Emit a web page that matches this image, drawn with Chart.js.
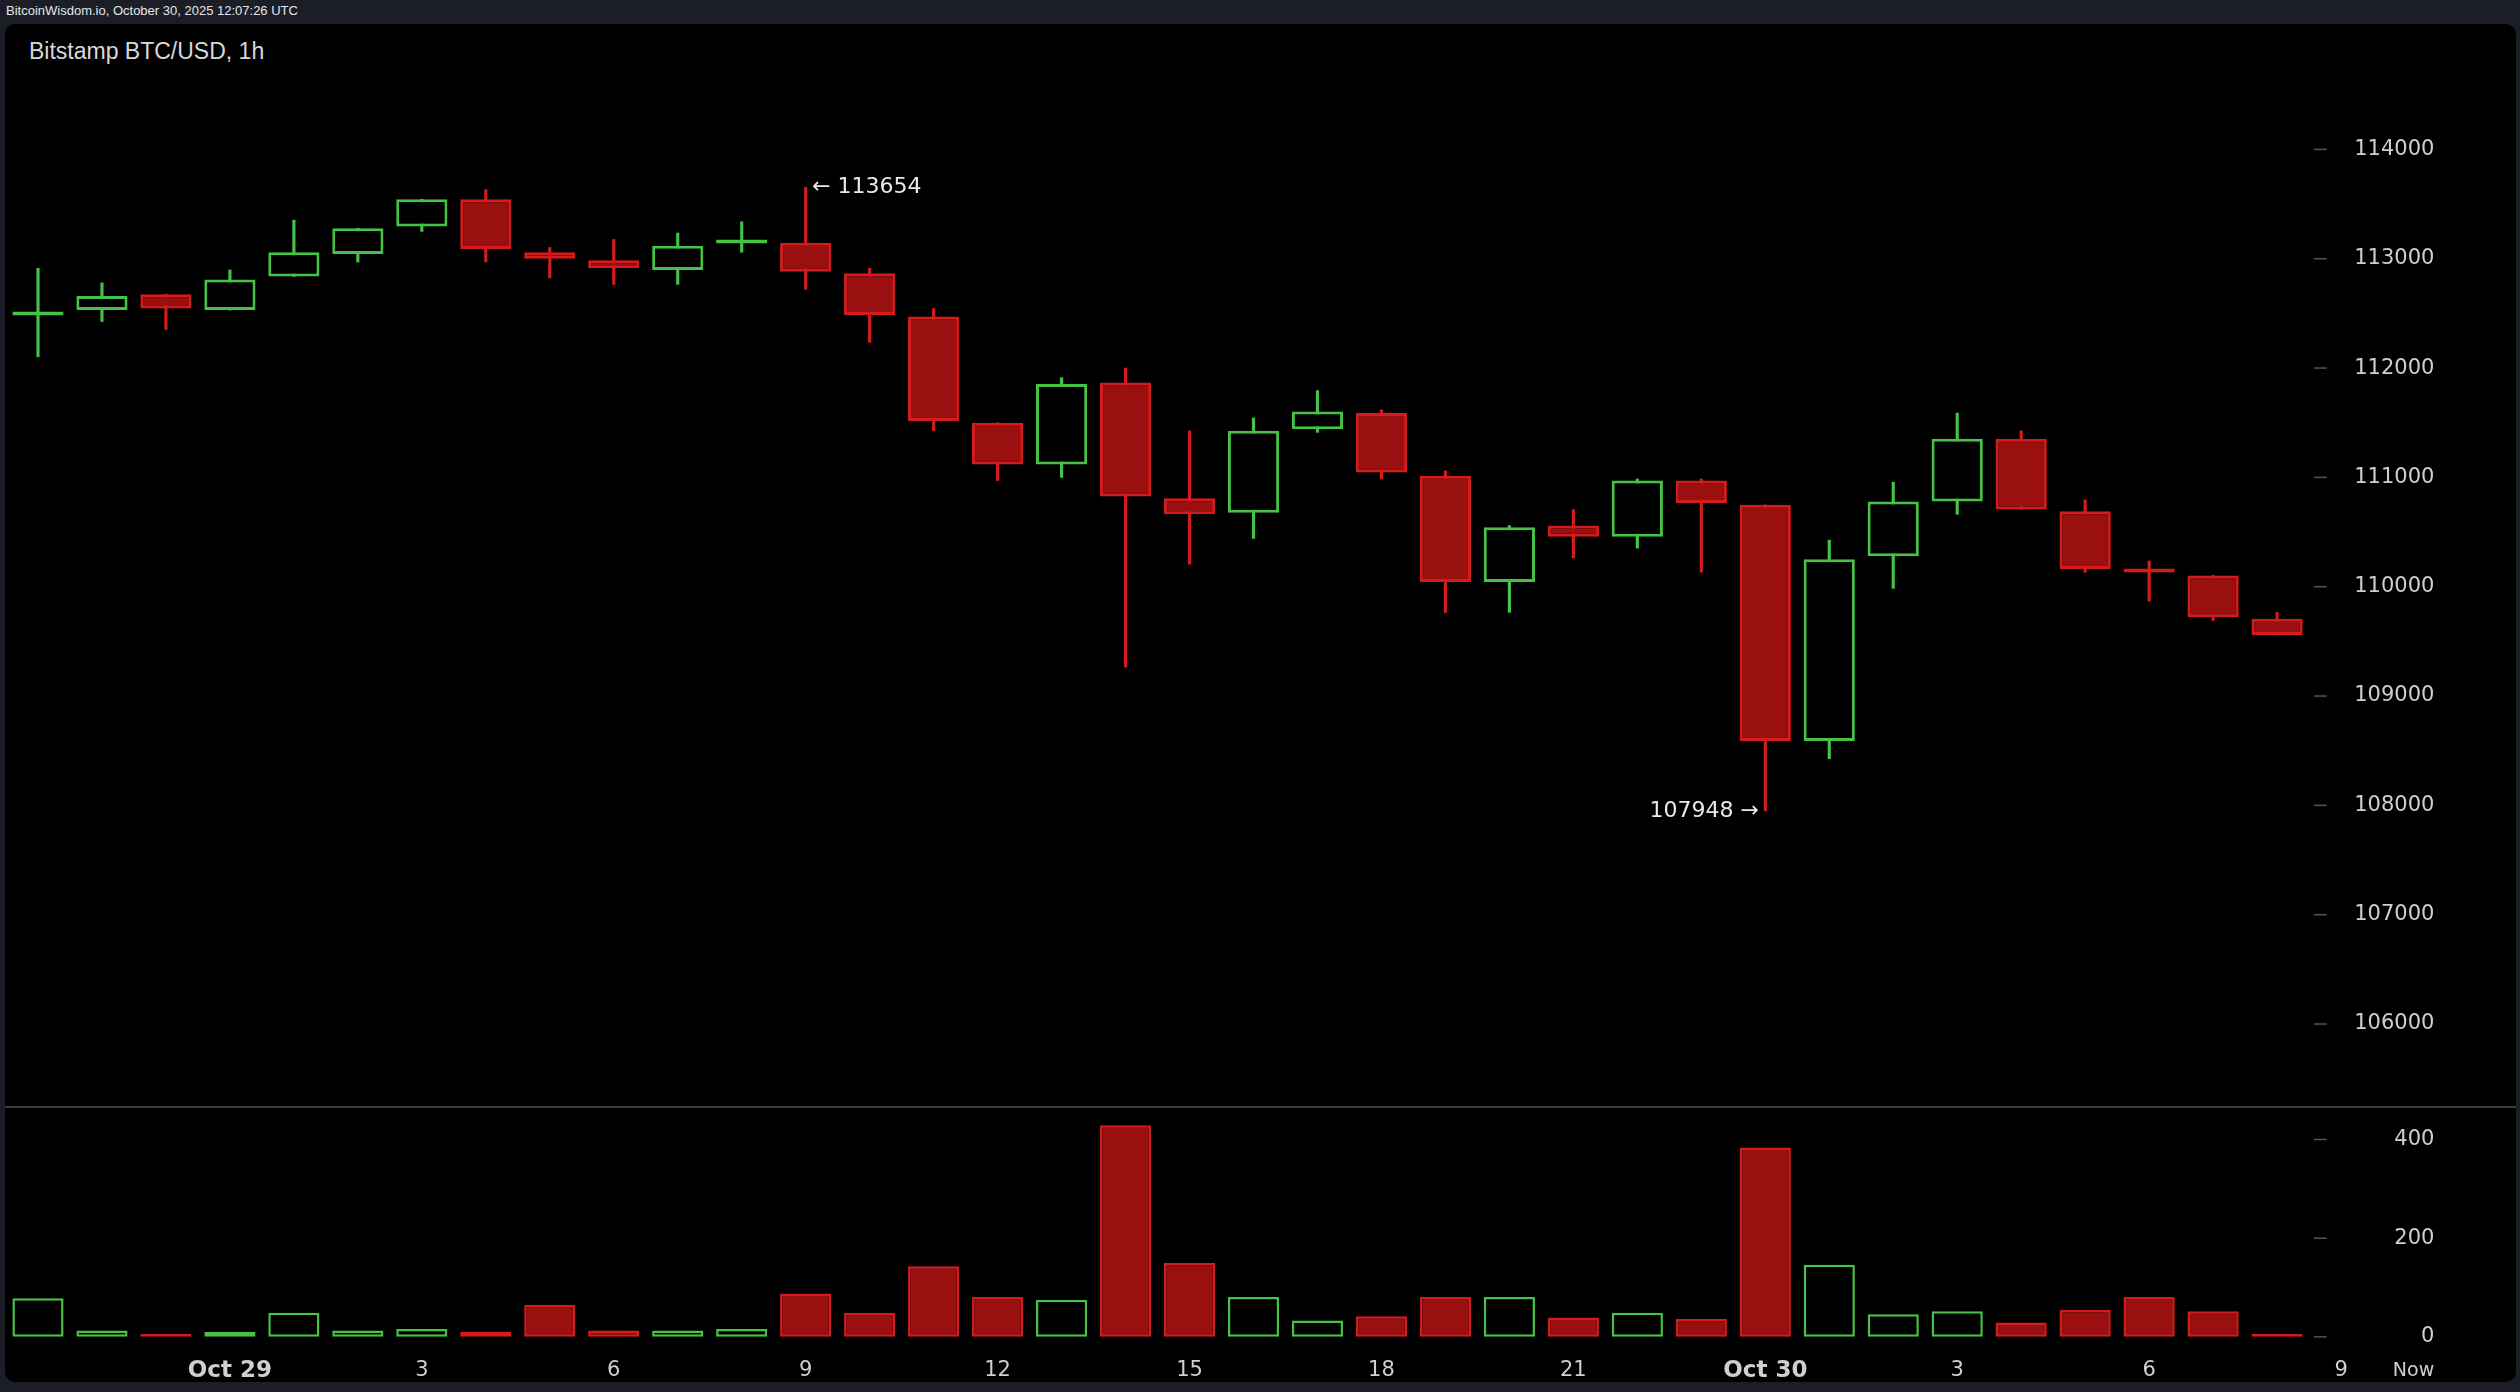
<!DOCTYPE html>
<html>
<head>
<meta charset="utf-8">
<script src="https://cdn.jsdelivr.net/npm/chart.js@4.4.0/dist/chart.umd.min.js"></script>
<style>
  html, body { margin: 0; padding: 0; background: #1b1e27; width: 2520px; height: 1392px; overflow: hidden; }
  #topbar { position: absolute; left: 6px; top: 3px; color: #e6e6e6; font: 13px "Liberation Sans", Arial, sans-serif; }
  #panel { position: absolute; left: 5px; top: 24px; width: 2511px; height: 1358px; background: #000; border-radius: 10px; }
  #title { position: absolute; left: 29px; top: 38px; color: #d8d8d8; font: 23px "Liberation Sans", Arial, sans-serif; }
  canvas { position: absolute; }
  #sep { position: absolute; left: 5px; width: 2511px; top: 1106px; height: 2px; background: #3a3a3a; }
</style>
</head>
<body>
<div id="topbar">BitcoinWisdom.io, October 30, 2025 12:07:26 UTC</div>
<div id="panel"></div>
<div id="title">Bitstamp BTC/USD, 1h</div>
<canvas id="priceChart"></canvas>
<div id="sep"></div>
<canvas id="volumeChart"></canvas>
<script>
// Data (hourly candles, Oct 28 21:00 -> Oct 30 08:00)
const openPrices  = [112480,112530,112676,112530,112838,113044,113294,113544,113059,112985,112897,113140,113147,112868,112471,111500,111118,111868,110809,110676,111441,111588,111015,110044,110559,110456,110971,110750,108588,110279,110779,111353,110691,110140,110103,109706];
const highPrices  = [112912,112779,112676,112897,113353,113279,113544,113632,113103,113176,113235,113338,113654,112912,112544,111500,111912,112000,111426,111544,111794,111618,111059,110559,110706,110985,110985,110750,110426,110956,111588,111426,110794,110235,110103,109765];
const lowPrices   = [112103,112426,112353,112530,112838,112970,113250,112970,112824,112765,112765,113059,112720,112235,111426,110971,111000,109265,110206,110441,111412,110985,109765,109765,110265,110353,110132,107948,108426,109985,110662,110706,110132,109868,109691,109559];
const closePrices = [112490,112660,112544,112809,113059,113279,113544,113088,113000,112912,113118,113150,112882,112485,111515,111118,111853,110824,110662,111426,111603,111044,110044,110544,110456,110971,110765,108588,110250,110779,111353,110706,110162,110130,109720,109559];
const volumes     = [78,13,6,10,49,13,16,10,65,13,13,16,88,49,143,81,75,429,150,81,33,42,81,81,39,49,36,384,146,46,52,29,55,81,52,6];
const xTickLabels = {3:'Oct 29',6:'3',9:'6',12:'9',15:'12',18:'15',21:'18',24:'21',27:'Oct 30',30:'3',33:'6',36:'9'};
const priceTicks  = [106000,107000,108000,109000,110000,111000,112000,113000,114000];
const volumeTicks = [0,200,400];
const highMark = { index: 12, value: 113654 };
const lowMark  = { index: 27, value: 107948 };

const S = 2520 / 1568;
const SLOTS = 39;
const GREEN = '#46c246';
const RED = '#d41c1c';
const RED_FILL = '#9a1010';
const labels = Array.from({ length: SLOTS }, (_, i) => i);
const isUp = i => closePrices[i] >= openPrices[i];

function place(id, left, top, w, h) {
    const c = document.getElementById(id);
    c.width = Math.round(w); c.height = Math.round(h);
    c.style.left = Math.round(left) + 'px'; c.style.top = Math.round(top) + 'px';
    return c;
}

const LEFT = 4 * S, WIDTH = 39.8 * SLOTS * S;
const labelFont = Math.round(13 * S) + 'px "DejaVu Sans", sans-serif';

// axis labels drawn inside the plot, on the right
function rightAxisPlugin(ticks) {
    return {
        id: 'rightAxis',
        afterDraw(chart) {
            const ctx = chart.ctx, y = chart.scales.y;
            ctx.save();
            ctx.font = labelFont;
            ctx.fillStyle = '#cfcfcf';
            ctx.strokeStyle = '#555';
            ctx.lineWidth = 1.5;
            ctx.textAlign = 'right';
            ctx.textBaseline = 'middle';
            ticks.forEach(t => {
                const py = y.getPixelForValue(t);
                ctx.beginPath();
                ctx.moveTo(1440 * S - LEFT, py); ctx.lineTo(1448 * S - LEFT, py); ctx.stroke();
                ctx.fillText(String(t), 1515 * S - LEFT, py);
            });
            ctx.restore();
        }
    };
}

function bodyRange(i) {
    return [Math.min(openPrices[i], closePrices[i]), Math.max(openPrices[i], closePrices[i])];
}

// Price chart
const priceCanvas = place('priceChart', LEFT, 15 * S, WIDTH, (688 - 15) * S);
new Chart(priceCanvas.getContext('2d'), {
    type: 'bar',
    data: {
        labels: labels,
        datasets: [{
            label: 'body',
            data: openPrices.map((_, i) => bodyRange(i)),
            backgroundColor: openPrices.map((_, i) => isUp(i) ? '#000' : RED_FILL),
            borderColor: openPrices.map((_, i) => isUp(i) ? GREEN : RED),
            borderWidth: 3,
            borderSkipped: false,
            minBarLength: 4,
            barPercentage: 0.8,
            categoryPercentage: 1,
            grouped: false,
            order: 0
        }, {
            label: 'wick',
            data: highPrices.map((h, i) => [lowPrices[i], h]),
            backgroundColor: openPrices.map((_, i) => isUp(i) ? GREEN : RED),
            borderWidth: 0,
            barThickness: 2.5,
            grouped: false,
            order: 1
        }]
    },
    options: {
        responsive: false,
        devicePixelRatio: 1,
        animation: false,
        layout: { padding: 0 },
        plugins: { legend: { display: false }, tooltip: { enabled: false } },
        scales: {
            x: { display: false, offset: true },
            y: { display: false, min: 114000 - (688 - 93) / 0.068, max: 114000 + (93 - 15) / 0.068 }
        }
    },
    plugins: [rightAxisPlugin(priceTicks), {
        id: 'extremes',
        afterDraw(chart) {
            const ctx = chart.ctx, x = chart.scales.x, y = chart.scales.y;
            ctx.save();
            ctx.font = Math.round(13.5 * S) + 'px "DejaVu Sans", sans-serif';
            ctx.fillStyle = '#e8e8e8';
            ctx.textBaseline = 'middle';
            ctx.textAlign = 'left';
            ctx.fillText('\u2190 ' + highMark.value, x.getPixelForValue(highMark.index) + 4 * S, y.getPixelForValue(highMark.value));
            ctx.textAlign = 'right';
            ctx.fillText(lowMark.value + ' \u2192', x.getPixelForValue(lowMark.index) - 4 * S, y.getPixelForValue(lowMark.value));
            ctx.restore();
        }
    }]
});

// Volume chart
const volumeCanvas = place('volumeChart', LEFT, 690 * S, WIDTH, (862 - 690) * S);
new Chart(volumeCanvas.getContext('2d'), {
    type: 'bar',
    data: {
        labels: labels,
        datasets: [{
            label: 'volume',
            data: volumes,
            backgroundColor: volumes.map((_, i) => isUp(i) ? '#000' : RED_FILL),
            borderColor: volumes.map((_, i) => isUp(i) ? GREEN : RED),
            borderWidth: 2.5,
            borderSkipped: false,
            barPercentage: 0.8,
            categoryPercentage: 1
        }]
    },
    options: {
        responsive: false,
        devicePixelRatio: 1,
        animation: false,
        layout: { padding: 0 },
        plugins: { legend: { display: false }, tooltip: { enabled: false } },
        scales: {
            x: { display: false, offset: true },
            y: { display: false, min: -(862 - 832) / 0.3075, max: 400 + (709 - 690) / 0.3075 }
        }
    },
    plugins: [rightAxisPlugin(volumeTicks), {
        id: 'timeAxis',
        afterDraw(chart) {
            const ctx = chart.ctx, x = chart.scales.x;
            ctx.save();
            ctx.fillStyle = '#cfcfcf';
            ctx.textAlign = 'center';
            ctx.textBaseline = 'middle';
            const ty = (853 - 690) * S;
            Object.keys(xTickLabels).forEach(k => {
                const t = xTickLabels[k];
                ctx.font = t.startsWith('Oct') ? 'bold ' + Math.round(14.5 * S) + 'px "DejaVu Sans", sans-serif' : labelFont;
                ctx.fillText(t, x.getPixelForValue(Number(k)), ty);
            });
            ctx.font = Math.round(12 * S) + 'px "DejaVu Sans", sans-serif';
            ctx.fillText('Now', 1502 * S - LEFT, ty);
            ctx.restore();
        }
    }]
});
</script>
</body>
</html>
